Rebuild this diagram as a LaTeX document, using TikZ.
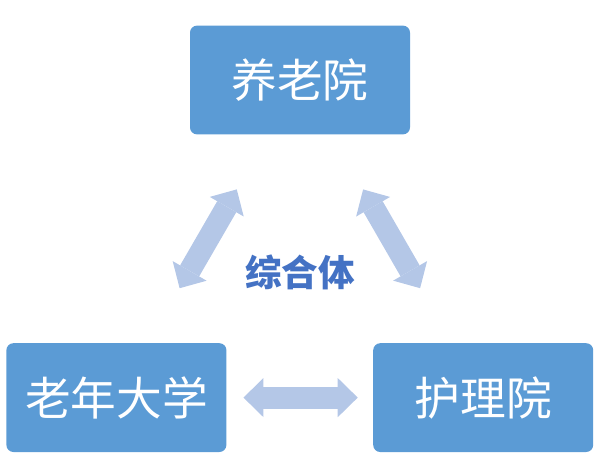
\documentclass[tikz,border=0pt]{standalone}
\usepackage{fontspec}
\setmainfont{Noto Sans CJK SC}
\usetikzlibrary{arrows.meta,positioning}

\definecolor{boxBlue}{RGB}{91,155,213}
\definecolor{arrowBlue}{RGB}{180,199,231}
\definecolor{hubBlue}{RGB}{68,114,196}

\begin{document}
\begin{tikzpicture}[
    boxFont/.style={font=\fontsize{32.5pt}{36pt}\selectfont},
    orgBox/.style={
        rectangle,
        fill=boxBlue,
        text=white,
        rounded corners=5pt,
        align=center,
        inner sep=0pt,
        minimum width=5.5cm,
        minimum height=2.72cm,
        boxFont
    },
    linkArrow/.style={
        draw=arrowBlue,
        line width=0.55cm,
        {Triangle[length=0.5cm,width=0.98cm,line width=0pt]}-{Triangle[length=0.5cm,width=0.98cm,line width=0pt]}
    },
    hubLabel/.style={
        text=hubBlue,
        font=\fontsize{26pt}{30pt}\selectfont\bfseries
    }
]
\useasboundingbox (0,0) rectangle (15,-11.775);

% ==================== INSTITUTIONS ====================
\node[orgBox] (yangLao) at (7.5, -2.0) {养老院};
\node[orgBox] (laoNian) at (2.91, -9.94) {老年大学};
\node[orgBox] (huLi) at (12.08, -9.94) {护理院};

% centre label
\node[hubLabel] (hub) at (7.5, -6.8) {综合体};

% ==================== LINKS ====================
\draw[linkArrow, shorten <=1.58cm, shorten >=1.58cm] (laoNian) -- (yangLao);
\draw[linkArrow, shorten <=1.58cm, shorten >=1.58cm] (huLi) -- (yangLao);
\draw[linkArrow, shorten <=0.42cm, shorten >=0.38cm] (laoNian) -- (huLi);

\end{tikzpicture}
\end{document}
